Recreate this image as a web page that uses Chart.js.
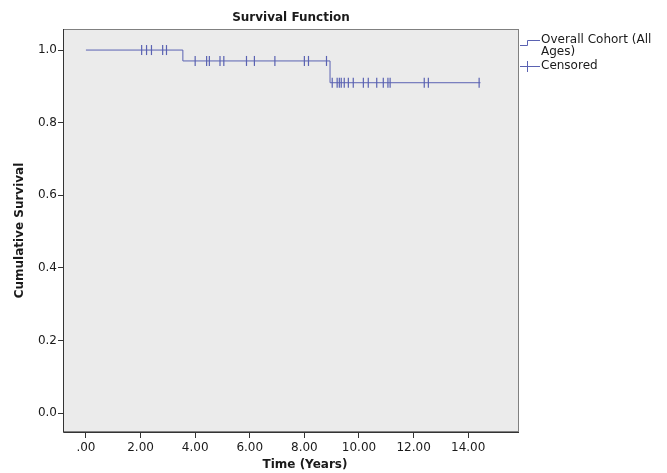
<!DOCTYPE html>
<html>
<head>
  <title>Survival Function</title>
  <script src="https://cdn.jsdelivr.net/npm/chart.js"></script>
  <style>
    html, body { margin: 0; padding: 0; background: #fff; }
    #wrap { width: 667px; height: 473px; }
  </style>
</head>
<body>
  <div id="wrap"><canvas id="chart"></canvas></div>

  <script>
    // step points of the survival curve (time, cumulative survival)
    const stepTimes = [0, 3.55, 8.94, 14.45];
    const stepValues = [1.0, 0.97, 0.91, 0.91];

    // censored times
    const censoredTimes = [2.04, 2.22, 2.40, 2.81, 2.95,
      4.00, 4.42, 4.52, 4.91, 5.05, 5.88, 6.17, 6.92, 8.00, 8.15, 8.81,
      9.02, 9.20, 9.28, 9.35, 9.46, 9.61, 9.79, 10.16, 10.34, 10.65, 10.89, 11.06, 11.14,
      12.39, 12.54, 14.40];

    const xTicks = [0, 2, 4, 6, 8, 10, 12, 14];
    const yTicks = [0, 0.2, 0.4, 0.6, 0.8, 1.0];

    const lineColor = "#5a62b2";
    const textColor = "#1a1a1a";
    const fontName = "'DejaVu Sans', sans-serif";

    // survival value at a given time, from the step arrays
    function survivalAt(t) {
      let v = stepValues[0];
      for (let i = 0; i < stepTimes.length; i++) {
        if (t >= stepTimes[i]) v = stepValues[i];
      }
      return v;
    }

    const curveData = stepTimes.map((t, i) => ({ x: t, y: stepValues[i] }));
    const censoredData = censoredTimes.map(t => ({ x: t, y: survivalAt(t) }));

    // background, frame, titles and legend
    const decor = {
      id: "decor",
      beforeDatasetsDraw(chart) {
        const { ctx, chartArea: a } = chart;
        ctx.save();
        ctx.fillStyle = "#ebebeb";
        ctx.fillRect(a.left, a.top, a.right - a.left, a.bottom - a.top);
        ctx.restore();
      },
      afterDraw(chart) {
        const { ctx, chartArea: a } = chart;
        ctx.save();
        ctx.strokeStyle = "#808080";
        ctx.lineWidth = 1;
        ctx.strokeRect(a.left + 0.5, a.top + 0.5, a.right - a.left - 1, a.bottom - a.top - 1);
        ctx.strokeStyle = "#333";
        ctx.beginPath();
        ctx.moveTo(a.left + 0.5, a.top);
        ctx.lineTo(a.left + 0.5, a.bottom + 0.5);
        ctx.lineTo(a.right, a.bottom + 0.5);
        ctx.stroke();

        ctx.fillStyle = textColor;
        ctx.textAlign = "center";
        ctx.textBaseline = "middle";
        ctx.font = "bold 12px " + fontName;
        ctx.fillText("Survival Function", (a.left + a.right) / 2, 18);
        ctx.fillText("Time (Years)", 305, 465);
        ctx.save();
        ctx.translate(20, (a.top + a.bottom) / 2);
        ctx.rotate(-Math.PI / 2);
        ctx.fillText("Cumulative Survival", 0, 0);
        ctx.restore();

        // legend
        ctx.strokeStyle = lineColor;
        ctx.beginPath();
        ctx.moveTo(a.right + 1, 45.5);
        ctx.lineTo(527.5, 45.5);
        ctx.lineTo(527.5, 40.5);
        ctx.lineTo(540, 40.5);
        ctx.moveTo(a.right + 1, 66.5);
        ctx.lineTo(540, 66.5);
        ctx.moveTo(527.5, 61);
        ctx.lineTo(527.5, 72);
        ctx.stroke();

        ctx.textAlign = "left";
        ctx.font = "12px " + fontName;
        ctx.fillText("Overall Cohort (All", 541, 40);
        ctx.fillText("Ages)", 541, 52);
        ctx.fillText("Censored", 541, 66);
        ctx.restore();
      }
    };

    new Chart(document.getElementById("chart"), {
      type: "scatter",
      data: {
        datasets: [
          {
            label: "Overall Cohort (All Ages)",
            data: curveData,
            showLine: true,
            stepped: true,
            borderColor: lineColor,
            borderWidth: 1,
            pointRadius: 0,
            fill: false
          },
          {
            label: "Censored",
            data: censoredData,
            showLine: false,
            pointStyle: "line",
            rotation: 90,
            pointRadius: 5,
            borderColor: lineColor,
            borderWidth: 1.2
          }
        ]
      },
      options: {
        responsive: true,
        maintainAspectRatio: false,
        animation: false,
        layout: { padding: { left: 0, right: 148, top: 29, bottom: 0 } },
        plugins: {
          legend: { display: false },
          tooltip: { enabled: false }
        },
        scales: {
          x: {
            type: "linear",
            min: -0.84,
            max: 15.86,
            afterBuildTicks: s => { s.ticks = xTicks.map(v => ({ value: v })); },
            afterFit: s => { s.height = 41; },
            grid: { drawOnChartArea: false, tickLength: 6, color: "#333" },
            border: { display: false },
            ticks: {
              color: textColor,
              font: { family: fontName, size: 12 },
              padding: 3,
              maxRotation: 0,
              callback: v => v === 0 ? ".00" : v.toFixed(2)
            }
          },
          y: {
            min: -0.052,
            max: 1.058,
            afterBuildTicks: s => { s.ticks = yTicks.map(v => ({ value: v })); },
            afterFit: s => { s.width = 63; },
            grid: { drawOnChartArea: false, tickLength: 5, color: "#333" },
            border: { display: false },
            ticks: {
              color: textColor,
              font: { family: fontName, size: 12 },
              padding: 1,
              callback: v => v.toFixed(1)
            }
          }
        }
      },
      plugins: [decor]
    });
  </script>
</body>
</html>
